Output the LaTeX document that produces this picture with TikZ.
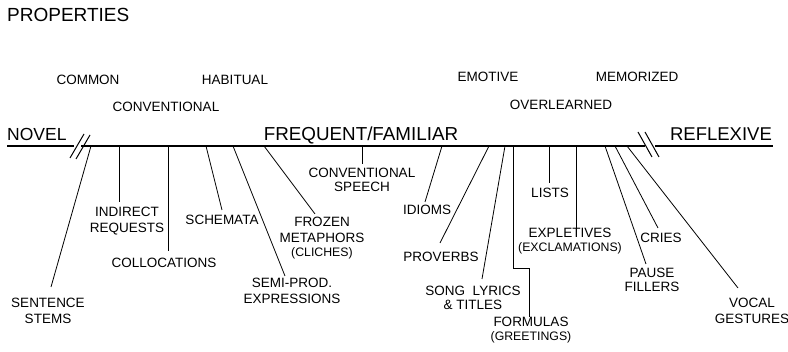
\documentclass[tikz,border=0pt]{standalone}
\usepackage{fontspec}
\setmainfont{Liberation Sans}
\usetikzlibrary{positioning}

\tikzset{
    bigtext/.style={inner sep=0pt, font=\fontsize{17.5}{20}\selectfont},
    midtext/.style={inner sep=0pt, align=center, font=\fontsize{13.5}{16.5}\selectfont},
    mainline/.style={line width=1.5pt},
    spoke/.style={line width=0.8pt},
}
\newcommand{\tinytext}[1]{{\fontsize{12.3}{12}\selectfont #1}}

\begin{document}
\begin{tikzpicture}[x=1pt, y=-1pt]
    \useasboundingbox (0,0) rectangle (788,352);

    % headings
    \node[bigtext, anchor=west, font=\fontsize{19}{20}\selectfont] (properties) at (7,15) {PROPERTIES};
    \node[midtext] (common) at (88,80) {COMMON};
    \node[midtext] (habitual) at (235,80) {HABITUAL};
    \node[midtext] (conventional) at (166,107) {CONVENTIONAL};
    \node[midtext] (emotive) at (488,77) {EMOTIVE};
    \node[midtext] (memorized) at (637,77) {MEMORIZED};
    \node[midtext] (overlearned) at (561,105) {OVERLEARNED};

    % the scale
    \node[bigtext, anchor=west] (novel) at (7,134) {NOVEL};
    \node[bigtext, font=\fontsize{18.8}{20}\selectfont] (frequent) at (361,135) {FREQUENT/FAMILIAR};
    \node[bigtext, font=\fontsize{18.5}{20}\selectfont] (reflexive) at (721,134) {REFLEXIVE};
    \coordinate (l0) at (7,146);
    \coordinate (l1) at (74,146);
    \coordinate (l2) at (81,146);
    \coordinate (l3) at (645,146);
    \coordinate (l4) at (655,146);
    \coordinate (l5) at (773,146);
    \draw[mainline] (l0) -- (l1);
    \draw[mainline] (l2) -- (l3);
    \draw[mainline] (l4) -- (l5);
    \draw[spoke, line width=1pt] (70,158) -- (84,134);
    \draw[spoke, line width=1pt] (76,159) -- (90,135);
    \draw[spoke, line width=1pt] (638,132) -- (652,157);
    \draw[spoke, line width=1pt] (645,132) -- (659,157);

    % labels below
    \node[midtext] (sentence) at (48,311) {SENTENCE\\STEMS};
    \node[midtext] (indirect) at (127,221) {INDIRECT\\REQUESTS};
    \node[midtext] (colloc) at (164,263) {COLLOCATIONS};
    \node[midtext] (schemata) at (222,220) {SCHEMATA};
    \node[midtext] (semiprod) at (292,291) {SEMI-PROD.\\EXPRESSIONS};
    \node[midtext] (frozen) at (322,238) {FROZEN\\METAPHORS\\[-3pt]\tinytext{(CLICHES)}};
    \node[midtext] (convspeech) at (362,180) {CONVENTIONAL\\[-2pt]SPEECH};
    \node[midtext] (idioms) at (427,210) {IDIOMS};
    \node[midtext] (proverbs) at (441,257) {PROVERBS};
    \node[midtext] (songlyrics) at (473,298) {SONG\ \ LYRICS\\[-3pt]\& TITLES};
    \node[midtext] (formulas) at (531,330) {FORMULAS\\[-2pt]\tinytext{(GREETINGS)}};
    \node[midtext] (lists) at (550,193) {LISTS};
    \node[midtext] (expletives) at (570,241) {EXPLETIVES\\[-3pt]\tinytext{(EXCLAMATIONS)}};
    \node[midtext] (pause) at (652,280) {PAUSE\\[-2pt]FILLERS};
    \node[midtext] (cries) at (661,238) {CRIES};
    \node[midtext] (vocal) at (752,311) {VOCAL\\GESTURES};

    % spokes from the scale
    \coordinate (t-sentence) at (91,146);   \coordinate (e-sentence) at (51,287);
    \coordinate (t-indirect) at (119,146);  \coordinate (e-indirect) at (119,202);
    \coordinate (t-colloc) at (168,146);    \coordinate (e-colloc) at (168,251);
    \coordinate (t-schemata) at (206,146);  \coordinate (e-schemata) at (222,210);
    \coordinate (t-semiprod) at (233,146);  \coordinate (e-semiprod) at (285,276);
    \coordinate (t-frozen) at (264,146);    \coordinate (e-frozen) at (315,214);
    \coordinate (t-convspeech) at (362,146); \coordinate (e-convspeech) at (362,164);
    \coordinate (t-idioms) at (442,146);    \coordinate (e-idioms) at (425,202);
    \coordinate (t-proverbs) at (489,146);  \coordinate (e-proverbs) at (440,243);
    \coordinate (t-songlyrics) at (505,146); \coordinate (e-songlyrics) at (482,279);
    \coordinate (t-formulas) at (513,146);  \coordinate (e-formulas) at (529,317);
    \coordinate (t-lists) at (549,146);     \coordinate (e-lists) at (549,183);
    \coordinate (t-expletives) at (576,146); \coordinate (e-expletives) at (576,228);
    \coordinate (t-pause) at (605,146);     \coordinate (e-pause) at (646,264);
    \coordinate (t-cries) at (615,146);     \coordinate (e-cries) at (658,228);
    \coordinate (t-vocal) at (627,146);     \coordinate (e-vocal) at (738,288);

    \foreach \n in {sentence, indirect, colloc, schemata, semiprod, frozen, convspeech,
                    idioms, proverbs, songlyrics, lists, expletives, pause, cries, vocal}
        \draw[spoke] (t-\n) -- (e-\n);
    \draw[spoke] (t-formulas) |- (529,268) -- (e-formulas);
\end{tikzpicture}
\end{document}
